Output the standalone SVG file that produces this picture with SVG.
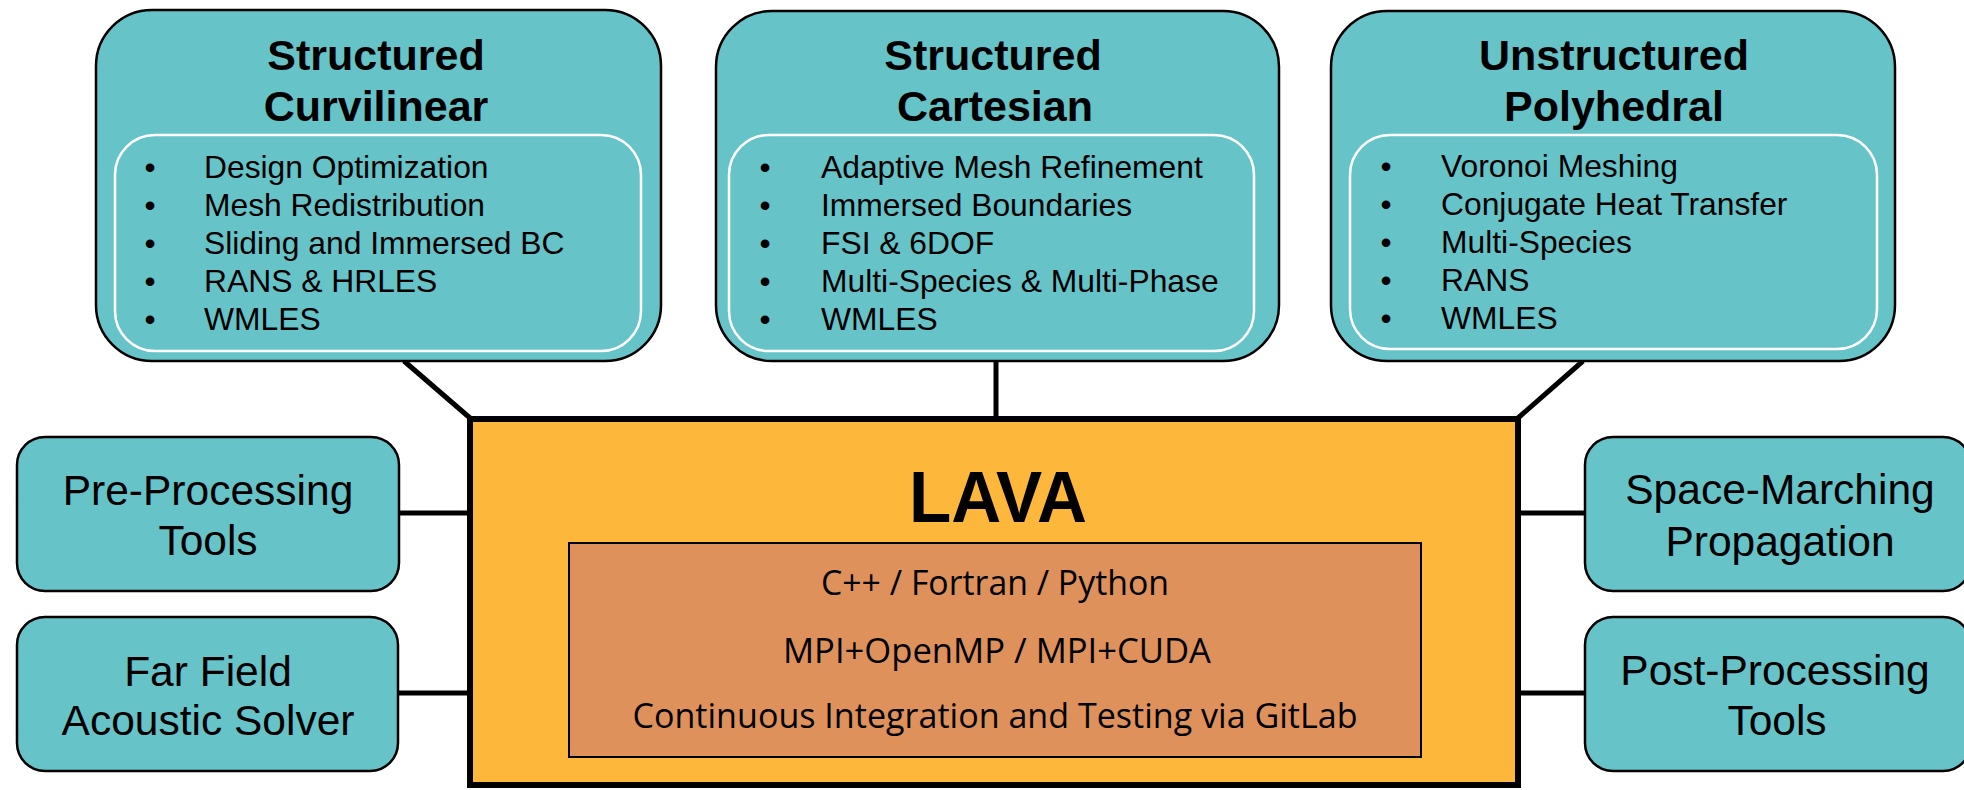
<svg xmlns="http://www.w3.org/2000/svg" width="1964" height="790" viewBox="0 0 1964 790">
<style>
.box{fill:#66C3C8;stroke:#000;stroke-width:2.5}
.inner{fill:none;stroke:#fff;stroke-width:2.5}
.side{fill:#66C3C8;stroke:#000;stroke-width:2.5}
.conn{stroke:#000;stroke-width:5;fill:none}
.title{font-family:"Liberation Sans",Arial,sans-serif;font-weight:bold;font-size:43px;fill:#000;text-anchor:middle}
.item{font-family:"Liberation Sans",Arial,sans-serif;font-size:31.8px;fill:#000}
.bul{font-family:"Liberation Sans",Arial,sans-serif;font-size:31.8px;fill:#000;text-anchor:middle}
.stxt{font-family:"Liberation Sans",Arial,sans-serif;font-size:42.5px;fill:#000;text-anchor:middle}
.lava{font-family:"Liberation Sans",Arial,sans-serif;font-weight:bold;font-size:72px;fill:#000;text-anchor:middle}
.tech{font-family:"Open Sans","Liberation Sans",sans-serif;font-size:34px;fill:#000;text-anchor:middle}
</style>
<rect width="1964" height="790" fill="#fff"/>
<g id="connectors">
<line class="conn" x1="404" y1="361" x2="470" y2="418"/>
<line class="conn" x1="996" y1="361" x2="996" y2="418"/>
<line class="conn" x1="1583" y1="361" x2="1518" y2="418"/>
<line class="conn" x1="399" y1="513" x2="470" y2="513"/>
<line class="conn" x1="399" y1="693" x2="470" y2="693"/>
<line class="conn" x1="1518" y1="513" x2="1585" y2="513"/>
<line class="conn" x1="1518" y1="693" x2="1585" y2="693"/>
</g>
<g id="structured-curvilinear">
<rect class="box" x="96" y="10" width="565" height="351" rx="56" ry="56"/>
<rect class="inner" x="115" y="135" width="526" height="216" rx="40" ry="40"/>
<text class="title" x="376" y="70">Structured</text>
<text class="title" x="376" y="121">Curvilinear</text>
<text class="bul" x="150" y="178">•</text><text class="item" x="204" y="178">Design Optimization</text>
<text class="bul" x="150" y="216">•</text><text class="item" x="204" y="216">Mesh Redistribution</text>
<text class="bul" x="150" y="254">•</text><text class="item" x="204" y="254">Sliding and Immersed BC</text>
<text class="bul" x="150" y="292">•</text><text class="item" x="204" y="292">RANS &amp; HRLES</text>
<text class="bul" x="150" y="330">•</text><text class="item" x="204" y="330">WMLES</text>
</g>
<g id="structured-cartesian">
<rect class="box" x="716" y="11" width="563" height="350" rx="56" ry="56"/>
<rect class="inner" x="729" y="135" width="525" height="216" rx="40" ry="40"/>
<text class="title" x="993" y="70">Structured</text>
<text class="title" x="995" y="121">Cartesian</text>
<text class="bul" x="765" y="178">•</text><text class="item" x="821" y="178">Adaptive Mesh Refinement</text>
<text class="bul" x="765" y="216">•</text><text class="item" x="821" y="216">Immersed Boundaries</text>
<text class="bul" x="765" y="254">•</text><text class="item" x="821" y="254">FSI &amp; 6DOF</text>
<text class="bul" x="765" y="292">•</text><text class="item" x="821" y="292">Multi-Species &amp; Multi-Phase</text>
<text class="bul" x="765" y="330">•</text><text class="item" x="821" y="330">WMLES</text>
</g>
<g id="unstructured-polyhedral">
<rect class="box" x="1331" y="11" width="564" height="350" rx="56" ry="56"/>
<rect class="inner" x="1350" y="135" width="527" height="214" rx="40" ry="40"/>
<text class="title" x="1614" y="70">Unstructured</text>
<text class="title" x="1614" y="121">Polyhedral</text>
<text class="bul" x="1386" y="177">•</text><text class="item" x="1441" y="177">Voronoi Meshing</text>
<text class="bul" x="1386" y="215">•</text><text class="item" x="1441" y="215">Conjugate Heat Transfer</text>
<text class="bul" x="1386" y="253">•</text><text class="item" x="1441" y="253">Multi-Species</text>
<text class="bul" x="1386" y="291">•</text><text class="item" x="1441" y="291">RANS</text>
<text class="bul" x="1386" y="329">•</text><text class="item" x="1441" y="329">WMLES</text>
</g>
<g id="lava">
<rect x="470" y="419" width="1048" height="366" fill="#FDB73B" stroke="#000" stroke-width="6"/>
<rect x="569" y="543" width="852" height="214" fill="#DE915B" stroke="#000" stroke-width="2"/>
<text class="lava" x="998" y="522" textLength="178" lengthAdjust="spacingAndGlyphs">LAVA</text>
<text class="tech" x="995" y="595" textLength="348" lengthAdjust="spacingAndGlyphs">C++ / Fortran / Python</text>
<text class="tech" x="997" y="663" textLength="428" lengthAdjust="spacingAndGlyphs">MPI+OpenMP / MPI+CUDA</text>
<text class="tech" x="995" y="728" textLength="725" lengthAdjust="spacingAndGlyphs">Continuous Integration and Testing via GitLab</text>
</g>
<g id="pre-processing">
<rect class="side" x="17" y="437" width="382" height="154" rx="28" ry="28"/>
<text class="stxt" x="208" y="505">Pre-Processing</text>
<text class="stxt" x="208" y="555">Tools</text>
</g>
<g id="far-field">
<rect class="side" x="17" y="617" width="381" height="154" rx="28" ry="28"/>
<text class="stxt" x="208" y="686">Far Field</text>
<text class="stxt" x="208" y="735">Acoustic Solver</text>
</g>
<g id="space-marching">
<rect class="side" x="1585" y="437" width="386" height="154" rx="28" ry="28"/>
<text class="stxt" x="1780" y="504">Space-Marching</text>
<text class="stxt" x="1780" y="556">Propagation</text>
</g>
<g id="post-processing">
<rect class="side" x="1585" y="617" width="386" height="154" rx="28" ry="28"/>
<text class="stxt" x="1775" y="685">Post-Processing</text>
<text class="stxt" x="1777" y="735">Tools</text>
</g>
</svg>
